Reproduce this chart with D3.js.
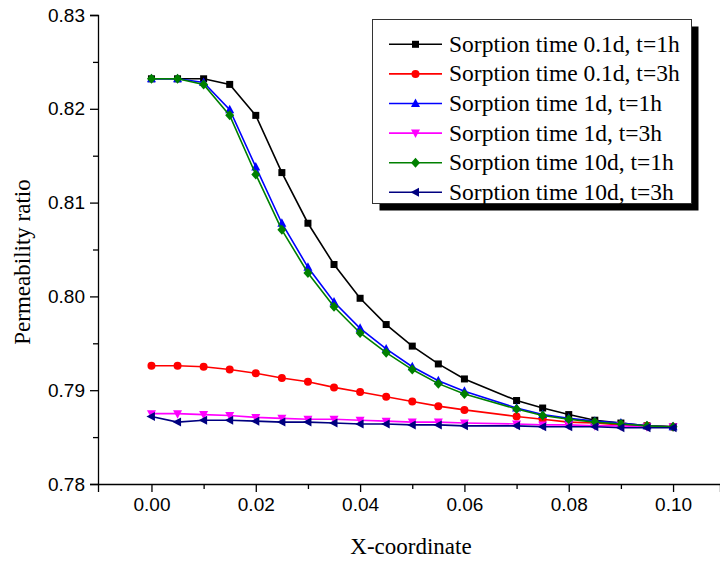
<!DOCTYPE html>
<html>
<head>
<meta charset="utf-8">
<script src="https://cdn.jsdelivr.net/npm/d3@7/dist/d3.min.js"></script>
<style>
  html, body { margin: 0; padding: 0; background: #fff; }
  svg { display: block; }
  .serif { font-family: "Times New Roman", "Liberation Serif", Times, "DejaVu Serif", serif; }
  .sans { font-family: Arial, "Liberation Sans", Helvetica, sans-serif; }
</style>
</head>
<body>
<div id="chart"></div>
<script>
// ---- Data ----
const xValues = [0, 0.005, 0.01, 0.015, 0.02, 0.025, 0.03, 0.035, 0.04, 0.045, 0.05, 0.055, 0.06, 0.07, 0.075, 0.08, 0.085, 0.09, 0.095, 0.1];

const seriesNames = [
  "Sorption time 0.1d, t=1h",
  "Sorption time 0.1d, t=3h",
  "Sorption time 1d, t=1h",
  "Sorption time 1d, t=3h",
  "Sorption time 10d, t=1h",
  "Sorption time 10d, t=3h"
];

const s01d1h = [0.8232, 0.8232, 0.8232, 0.8226, 0.8193, 0.8132, 0.8078, 0.8034, 0.7998, 0.7970, 0.7947, 0.7928, 0.7912, 0.7889, 0.7881, 0.7874, 0.7868, 0.7865, 0.7862, 0.7861];
const s01d3h = [0.7926, 0.7926, 0.7925, 0.7922, 0.7918, 0.7913, 0.7909, 0.7903, 0.7898, 0.7893, 0.7888, 0.7883, 0.7879, 0.7872, 0.7869, 0.7866, 0.7865, 0.7863, 0.7862, 0.7861];
const s1d1h  = [0.8232, 0.8232, 0.8228, 0.8199, 0.8138, 0.8078, 0.8031, 0.7994, 0.7966, 0.7944, 0.7925, 0.7910, 0.7899, 0.7881, 0.7874, 0.7870, 0.7867, 0.7865, 0.7862, 0.7861];
const s1d3h  = [0.7875, 0.7875, 0.7874, 0.7873, 0.7871, 0.7870, 0.7869, 0.7869, 0.7868, 0.7867, 0.7866, 0.7866, 0.7865, 0.7864, 0.7863, 0.7863, 0.7862, 0.7862, 0.7861, 0.7861];
const s10d1h = [0.8232, 0.8232, 0.8226, 0.8193, 0.8130, 0.8071, 0.8025, 0.7989, 0.7961, 0.7940, 0.7922, 0.7907, 0.7896, 0.7880, 0.7873, 0.7869, 0.7866, 0.7864, 0.7862, 0.7861];
const s10d3h = [0.7872, 0.7866, 0.7868, 0.7868, 0.7867, 0.7866, 0.7866, 0.7865, 0.7864, 0.7864, 0.7863, 0.7863, 0.7862, 0.7862, 0.7861, 0.7861, 0.7861, 0.7860, 0.7860, 0.7860];

const seriesValues = [s01d1h, s01d3h, s1d1h, s1d3h, s10d1h, s10d3h];
const seriesColors = ["#000000", "#ff0000", "#0000ff", "#ff00ff", "#008000", "#000080"];
const seriesMarkers = ["square", "circle", "triUp", "triDown", "diamond", "triLeft"];

const xTickValues = [0, 0.02, 0.04, 0.06, 0.08, 0.10];
const yTickValues = [0.78, 0.79, 0.80, 0.81, 0.82, 0.83];
const xMinorTicks = [0.01, 0.03, 0.05, 0.07, 0.09];
const yMinorTicks = [0.785, 0.795, 0.805, 0.815, 0.825];

// ---- Layout ----
const W = 720, H = 561;
const svg = d3.select("#chart").append("svg").attr("width", W).attr("height", H);

const x = d3.scaleLinear().domain([-0.01025, 0.109]).range([98, 720]);
const y = d3.scaleLinear().domain([0.78, 0.83]).range([484, 15]);

// Axes
const xAxis = svg.append("g").attr("transform", `translate(0,${y(0.78)})`)
  .call(d3.axisBottom(x).tickValues(xTickValues).tickFormat(d3.format(".2f")).tickSize(8).tickPadding(6));
const xMinor = svg.append("g").attr("transform", `translate(0,${y(0.78)})`)
  .call(d3.axisBottom(x).tickValues(xMinorTicks).tickFormat("").tickSize(5));
const yAxis = svg.append("g").attr("transform", `translate(${x.range()[0]},0)`)
  .call(d3.axisLeft(y).tickValues(yTickValues).tickFormat(d3.format(".2f")).tickSize(8).tickPadding(5));
const yMinor = svg.append("g").attr("transform", `translate(${x.range()[0]},0)`)
  .call(d3.axisLeft(y).tickValues(yMinorTicks).tickFormat("").tickSize(5));

[xAxis, xMinor, yAxis, yMinor].forEach(g => {
  g.attr("font-family", null).attr("font-size", null);
  g.selectAll("path").attr("stroke", "#000").attr("stroke-width", 1.3);
  g.selectAll("line").attr("stroke", "#000").attr("stroke-width", 1.3);
  g.selectAll("text").attr("fill", "#000").attr("class", "sans").style("font-size", "19px");
});
xMinor.select("path").remove();
yMinor.select("path").remove();

// Axis titles
svg.append("text").attr("class", "serif")
  .attr("x", 411).attr("y", 554)
  .attr("text-anchor", "middle")
  .style("font-size", "23px")
  .text("X-coordinate");
svg.append("text").attr("class", "serif")
  .attr("transform", `translate(30,262) rotate(-90)`)
  .attr("text-anchor", "middle")
  .style("font-size", "23px")
  .text("Permeability ratio");

// Marker drawing
function drawMarker(g, type, cx, cy, color) {
  if (type === "square") {
    g.append("rect").attr("x", cx - 3.5).attr("y", cy - 3.5).attr("width", 7).attr("height", 7).attr("fill", color);
  } else if (type === "circle") {
    g.append("circle").attr("cx", cx).attr("cy", cy).attr("r", 4).attr("fill", color);
  } else if (type === "triUp") {
    g.append("path").attr("d", `M${cx},${cy - 5}L${cx + 4.5},${cy + 3.5}L${cx - 4.5},${cy + 3.5}Z`).attr("fill", color);
  } else if (type === "triDown") {
    g.append("path").attr("d", `M${cx},${cy + 5}L${cx + 4.5},${cy - 3.5}L${cx - 4.5},${cy - 3.5}Z`).attr("fill", color);
  } else if (type === "diamond") {
    g.append("path").attr("d", `M${cx},${cy - 5}L${cx + 4.5},${cy}L${cx},${cy + 5}L${cx - 4.5},${cy}Z`).attr("fill", color);
  } else if (type === "triLeft") {
    g.append("path").attr("d", `M${cx - 5},${cy}L${cx + 3.5},${cy - 4.5}L${cx + 3.5},${cy + 4.5}Z`).attr("fill", color);
  }
}

// Series
const line = d3.line().x(d => x(d[0])).y(d => y(d[1]));
seriesValues.forEach((vals, i) => {
  const pts = xValues.map((xv, j) => [xv, vals[j]]);
  const g = svg.append("g");
  g.append("path").attr("d", line(pts)).attr("fill", "none")
    .attr("stroke", seriesColors[i]).attr("stroke-width", 1.6);
  pts.forEach(p => drawMarker(g, seriesMarkers[i], x(p[0]), y(p[1]), seriesColors[i]));
});

// Legend
const lg = svg.append("g");
const lx = 372.5, ly = 19.5, lw = 319, lh = 184;
lg.append("rect").attr("x", lx + 7).attr("y", ly + 7).attr("width", lw).attr("height", lh).attr("fill", "#000");
lg.append("rect").attr("x", lx).attr("y", ly).attr("width", lw).attr("height", lh)
  .attr("fill", "#fff").attr("stroke", "#333").attr("stroke-width", 1);
seriesNames.forEach((name, i) => {
  const cy = 44.3 + i * 29.6;
  lg.append("line").attr("x1", 389).attr("x2", 442).attr("y1", cy).attr("y2", cy)
    .attr("stroke", seriesColors[i]).attr("stroke-width", 1.6);
  drawMarker(lg, seriesMarkers[i], 415.5, cy, seriesColors[i]);
  lg.append("text").attr("class", "serif").attr("x", 449).attr("y", cy + 7.5)
    .style("font-size", "23.5px")
    .text(name);
});
</script>
</body>
</html>
